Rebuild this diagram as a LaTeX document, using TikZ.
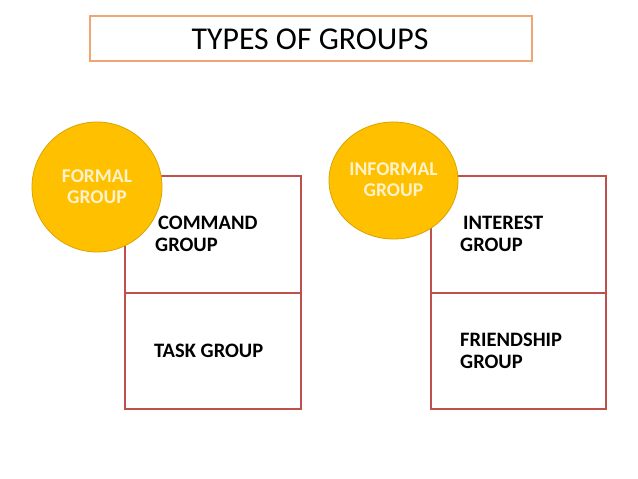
\documentclass[tikz,border=0pt]{standalone}
\usepackage{fontspec}
\setmainfont{Carlito}
\usetikzlibrary{shapes.geometric}
\definecolor{boxred}{HTML}{C0504D}
\definecolor{gold}{HTML}{FFC000}
\definecolor{goldline}{HTML}{D9A400}
\definecolor{titleline}{HTML}{EFA672}
\definecolor{circtext}{HTML}{FFF2CC}
\tikzset{
  cell/.style={draw=boxred, line width=1.2pt},
  badge/.style={fill=gold, draw=goldline, line width=0.8pt},
  badgetext/.style={text=circtext, font=\bfseries\fontsize{19.5}{21}\selectfont, align=center, inner sep=0pt},
  celltext/.style={anchor=west, align=left, inner sep=0pt, font=\bfseries\fontsize{20.5}{22}\selectfont},
}
\begin{document}
\begin{tikzpicture}[x=1pt,y=-1pt]
\useasboundingbox (0,0) rectangle (638,479);
\fill[white] (0,0) rectangle (638,479);
% title
\draw[titleline, line width=1.5pt] (90,16) rectangle (532,61);
\node[inner sep=0pt, font=\fontsize{31.8}{36}\selectfont] (title) at (310,39) {TYPES OF GROUPS};
% left column
\draw[cell] (125,176) rectangle (301,293);
\draw[cell] (125,293) rectangle (301,409);
\node[celltext] (command) at (155,234) {\hspace{3pt}COMMAND\\GROUP};
\node[celltext] (task) at (154,351) {TASK GROUP};
\draw[badge] (97,187) circle (65);
\node[badgetext] (formal) at (97,187) {FORMAL\\GROUP};
% right column
\draw[cell] (431,176) rectangle (606,293);
\draw[cell] (431,293) rectangle (606,409);
\node[celltext] (interest) at (460,234) {\hspace{3pt}INTEREST\\GROUP};
\node[celltext] (friend) at (460,351) {FRIENDSHIP\\GROUP};
\draw[badge] (393.5,180.5) ellipse (64.5 and 58.5);
\node[badgetext] (informal) at (393.5,180) {INFORMAL\\GROUP};
\end{tikzpicture}
\end{document}
